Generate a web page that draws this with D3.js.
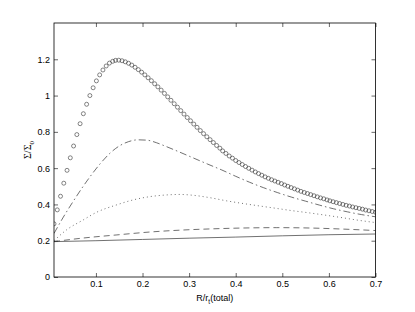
<!DOCTYPE html>
<html>
<head>
<meta charset="utf-8">
<script src="https://cdn.jsdelivr.net/npm/d3@7"></script>
<style>
  html, body { margin: 0; padding: 0; background: #fff; }
  svg { display: block; }
</style>
</head>
<body>
<svg id="chart" width="415" height="312"></svg>
<script>
// radius grid of the circle series
const rCircles = [
  0.010, 0.017, 0.024, 0.031, 0.038, 0.045, 0.052, 0.059, 0.066, 0.073,
  0.080, 0.087, 0.094, 0.101, 0.108, 0.115, 0.122, 0.129, 0.136, 0.142,
  0.149, 0.156, 0.163, 0.170, 0.177, 0.184, 0.191, 0.198, 0.205, 0.212,
  0.219, 0.226, 0.233, 0.240, 0.247, 0.254, 0.261, 0.268, 0.275, 0.282,
  0.289, 0.296, 0.303, 0.310, 0.317, 0.324, 0.331, 0.338, 0.345, 0.352,
  0.359, 0.366, 0.372, 0.379, 0.386, 0.393, 0.400, 0.407, 0.414, 0.421,
  0.428, 0.435, 0.442, 0.449, 0.456, 0.463, 0.470, 0.477, 0.484, 0.491,
  0.498, 0.505, 0.512, 0.519, 0.526, 0.533, 0.540, 0.547, 0.554, 0.561,
  0.568, 0.575, 0.582, 0.589, 0.596, 0.602, 0.609, 0.616, 0.623, 0.630,
  0.637, 0.644, 0.651, 0.658, 0.665, 0.672, 0.679, 0.686, 0.693, 0.700
];
const sigmaCircles = [
  0.293, 0.370, 0.445, 0.517, 0.588, 0.657, 0.722, 0.785, 0.845, 0.900,
  0.952, 1.000, 1.043, 1.081, 1.114, 1.141, 1.163, 1.179, 1.189, 1.194,
  1.195, 1.192, 1.186, 1.178, 1.168, 1.156, 1.143, 1.129, 1.114, 1.098,
  1.082, 1.065, 1.048, 1.030, 1.012, 0.993, 0.974, 0.955, 0.936, 0.917,
  0.898, 0.879, 0.861, 0.843, 0.825, 0.807, 0.790, 0.773, 0.757, 0.741,
  0.725, 0.710, 0.695, 0.681, 0.667, 0.655, 0.642, 0.631, 0.620, 0.609,
  0.599, 0.589, 0.579, 0.570, 0.561, 0.552, 0.544, 0.536, 0.529, 0.522,
  0.515, 0.507, 0.500, 0.493, 0.486, 0.479, 0.472, 0.466, 0.460, 0.454,
  0.448, 0.442, 0.436, 0.431, 0.425, 0.420, 0.415, 0.410, 0.405, 0.400,
  0.395, 0.391, 0.386, 0.382, 0.378, 0.374, 0.369, 0.365, 0.361, 0.357
];

// dash-dot curve
const rDashDot = [0.01, 0.03, 0.05, 0.07, 0.09, 0.11, 0.13, 0.15, 0.17, 0.19, 0.21, 0.23, 0.25,
  0.28, 0.31, 0.34, 0.37, 0.40, 0.43, 0.46, 0.49, 0.52, 0.55, 0.58, 0.61, 0.64, 0.67, 0.70];
const sigmaDashDot = [0.240, 0.330, 0.412, 0.490, 0.562, 0.627, 0.682, 0.722, 0.746, 0.756, 0.754, 0.740, 0.720,
  0.688, 0.655, 0.622, 0.590, 0.555, 0.522, 0.492, 0.465, 0.440, 0.418, 0.396, 0.376, 0.359, 0.344, 0.332];

// dotted curve
const rDotted = [0.01, 0.037, 0.073, 0.10, 0.145, 0.18, 0.216, 0.25, 0.28, 0.31, 0.345, 0.38,
  0.416, 0.45, 0.488, 0.52, 0.559, 0.60, 0.631, 0.66, 0.70];
const sigmaDotted = [0.200, 0.260, 0.315, 0.355, 0.398, 0.425, 0.443, 0.452, 0.455, 0.450, 0.437, 0.420,
  0.405, 0.392, 0.378, 0.366, 0.353, 0.338, 0.326, 0.314, 0.300];

// dashed curve
const rDashed = [0.01, 0.07, 0.145, 0.216, 0.287, 0.345, 0.416, 0.488, 0.559, 0.631, 0.70];
const sigmaDashed = [0.195, 0.214, 0.232, 0.248, 0.259, 0.265, 0.270, 0.272, 0.270, 0.264, 0.256];

// solid curve
const rSolid = [0.01, 0.10, 0.20, 0.30, 0.40, 0.50, 0.60, 0.70];
const sigmaSolid = [0.195, 0.200, 0.207, 0.214, 0.220, 0.227, 0.233, 0.237];

const xTicks = [0.1, 0.2, 0.3, 0.4, 0.5, 0.6, 0.7];
const yTicks = [0, 0.2, 0.4, 0.6, 0.8, 1, 1.2];

const width = 415;
const height = 312;
const margins = { left: 54, right: 39.5, top: 23, bottom: 35 };
const font = "'Liberation Sans', Arial, Helvetica, sans-serif";

const svg = d3.select("#chart");

const x = d3.scaleLinear()
  .domain([0.01, 0.7])
  .range([margins.left, width - margins.right]);

const y = d3.scaleLinear()
  .domain([0, 1.4])
  .range([height - margins.bottom, margins.top]);

function pairs(xs, ys) {
  return xs.map((d, i) => ({ r: d, s: ys[i] }));
}

svg.append("defs").append("clipPath").attr("id", "plotClip")
  .append("rect")
  .attr("x", margins.left)
  .attr("y", margins.top)
  .attr("width", x.range()[1] - x.range()[0])
  .attr("height", y.range()[0] - y.range()[1]);

// axes (ticks pointing inward, box on)
function styleAxis(g) {
  g.select(".domain").remove();
  g.selectAll(".tick line").attr("stroke", "#000").attr("stroke-width", 0.6);
  g.selectAll(".tick text")
    .attr("fill", "#000")
    .attr("font-family", font)
    .attr("font-size", "9px");
}

svg.append("g")
  .attr("transform", `translate(0, ${y.range()[0]})`)
  .call(d3.axisBottom(x).tickValues(xTicks).tickFormat(d3.format("~g"))
    .tickSizeInner(-4).tickSizeOuter(0).tickPadding(4))
  .call(styleAxis);

svg.append("g")
  .attr("transform", `translate(0, ${y.range()[1]})`)
  .call(d3.axisTop(x).tickValues(xTicks).tickFormat("")
    .tickSizeInner(-4).tickSizeOuter(0))
  .call(styleAxis);

svg.append("g")
  .attr("transform", `translate(${x.range()[0]}, 0)`)
  .call(d3.axisLeft(y).tickValues(yTicks).tickFormat(d3.format("~g"))
    .tickSizeInner(-4).tickSizeOuter(0).tickPadding(4))
  .call(styleAxis);

svg.append("g")
  .attr("transform", `translate(${x.range()[1]}, 0)`)
  .call(d3.axisRight(y).tickValues(yTicks).tickFormat("")
    .tickSizeInner(-4).tickSizeOuter(0))
  .call(styleAxis);

const line = d3.line()
  .x((d) => x(d.r))
  .y((d) => y(d.s))
  .curve(d3.curveMonotoneX);

const curves = [
  { data: pairs(rSolid, sigmaSolid), dash: null },
  { data: pairs(rDashed, sigmaDashed), dash: "6,4" },
  { data: pairs(rDotted, sigmaDotted), dash: "1,3" },
  { data: pairs(rDashDot, sigmaDashDot), dash: "7,3,1.5,3" }
];

const plot = svg.append("g").attr("clip-path", "url(#plotClip)");

plot.selectAll("path.curve")
  .data(curves)
  .join("path")
  .attr("class", "curve")
  .attr("fill", "none")
  .attr("stroke", "#333")
  .attr("stroke-width", 0.7)
  .attr("stroke-dasharray", (d) => d.dash)
  .attr("d", (d) => line(d.data));

plot.selectAll("circle")
  .data(pairs(rCircles, sigmaCircles))
  .join("circle")
  .attr("cx", (d) => x(d.r))
  .attr("cy", (d) => y(d.s))
  .attr("r", 2)
  .attr("fill", "none")
  .attr("stroke", "#333")
  .attr("stroke-width", 0.6);

// box
svg.append("rect")
  .attr("x", x.range()[0])
  .attr("y", y.range()[1])
  .attr("width", x.range()[1] - x.range()[0])
  .attr("height", y.range()[0] - y.range()[1])
  .attr("fill", "none")
  .attr("stroke", "#000")
  .attr("stroke-width", 0.8);

// x label
const xLabel = svg.append("text")
  .attr("x", (x.range()[0] + x.range()[1]) / 2)
  .attr("y", 301)
  .attr("text-anchor", "middle")
  .attr("font-family", font)
  .attr("font-size", "9px")
  .attr("fill", "#000");
xLabel.append("tspan").text("R/r");
xLabel.append("tspan").attr("dy", 2.5).attr("font-size", "6.5px").text("t");
xLabel.append("tspan").attr("dy", -2.5).text("(total)");

// y label
const yLabel = svg.append("text")
  .attr("transform", `translate(31, ${(y.range()[0] + y.range()[1]) / 2}) rotate(-90)`)
  .attr("text-anchor", "middle")
  .attr("font-family", "'Liberation Serif', 'Times New Roman', serif")
  .attr("font-size", "10px")
  .attr("fill", "#000");
yLabel.append("tspan").text("Σ/Σ");
yLabel.append("tspan").attr("dy", 2.5).attr("font-size", "7px").text("0");
</script>
</body>
</html>
